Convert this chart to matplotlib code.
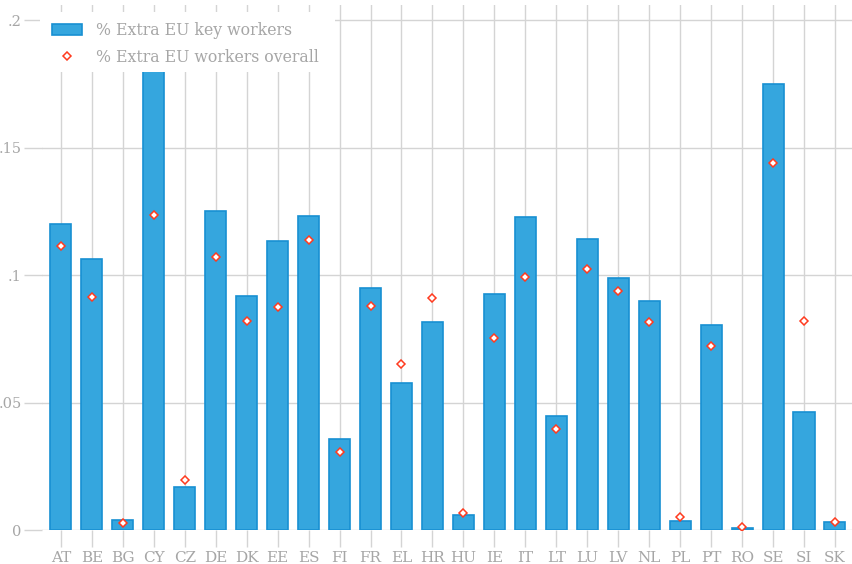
import matplotlib
matplotlib.use("Agg")
import matplotlib.pyplot as plt
from matplotlib.patches import Rectangle
import numpy as np

countries = ["AT","BE","BG","CY","CZ","DE","DK","EE","ES","FI","FR","EL","HR",
             "HU","IE","IT","LT","LU","LV","NL","PL","PT","RO","SE","SI","SK"]
key_workers = [0.120, 0.1063, 0.0039, 0.190, 0.0169, 0.1251, 0.0918, 0.1133, 0.1231,
               0.0357, 0.0949, 0.0576, 0.0816, 0.0059, 0.0925, 0.1227, 0.0447, 0.1141,
               0.0988, 0.0898, 0.0035, 0.0804, 0.0008, 0.1749, 0.0463, 0.0031]
workers_overall = [0.1114, 0.0914, 0.0027, 0.1235, 0.0196, 0.1071, 0.0820, 0.0875, 0.1137,
                   0.0306, 0.0878, 0.0651, 0.0910, 0.0067, 0.0753, 0.0992, 0.0396, 0.1024,
                   0.0937, 0.0816, 0.0051, 0.0722, 0.0012, 0.1439, 0.0820, 0.0031]
yticks = [0, 0.05, 0.10, 0.15, 0.20]
yticklabels = ["0", ".05", ".1", ".15", ".2"]

plt.rcParams['font.family'] = ['DejaVu Serif']
gray = "#a6a6a6"
grid = "#d4d4d4"

fig = plt.figure(figsize=(8.53, 5.64), dpi=100)
ax = fig.add_axes([42/853, 34/564, 810/853, 525/564])
x = np.arange(len(countries))
bars = ax.bar(x, key_workers, width=0.68, color="#35a6de", edgecolor="#1890d2",
              linewidth=1.2, zorder=2, label="% Extra EU key workers")
pts, = ax.plot(x, workers_overall, linestyle="none", marker="D", markersize=3.6,
               markerfacecolor="white", markeredgecolor="#ff3b1f", markeredgewidth=1.1,
               zorder=3, label="% Extra EU workers overall")

ax.set_xlim(-0.61, 25.55)
ax.set_ylim(0, 0.206)
ax.set_xticks(x)
ax.set_xticklabels(countries)
ax.set_yticks(yticks)
ax.set_yticklabels(yticklabels)
ax.grid(True, color=grid, linewidth=1.0, zorder=0)
ax.set_axisbelow(True)
for s in ax.spines.values():
    s.set_visible(False)
ax.tick_params(axis="both", colors=grid, labelcolor=gray, width=1.0)
ax.tick_params(axis="x", length=12, pad=3, labelsize=11)
ax.tick_params(axis="y", length=13, pad=1.5, labelsize=10.5)

# white legend background
ax.add_patch(Rectangle((-0.003, (530-72)/525), (335-40)/810, (72-12)/525,
                       transform=ax.transAxes, facecolor="white", edgecolor="none",
                       zorder=4, clip_on=False))

leg = ax.legend([bars, pts], ["% Extra EU key workers", "% Extra EU workers overall"],
                loc="upper left", bbox_to_anchor=((52-42)/810, (530-22)/525), frameon=False,
                fontsize=11.3, labelcolor=gray, handlelength=1.9, handleheight=0.76,
                borderpad=0.0, labelspacing=0.62, handletextpad=0.9, borderaxespad=0.0)
leg.set_zorder(5)

fig.savefig("out.png", dpi=100, facecolor="white")
